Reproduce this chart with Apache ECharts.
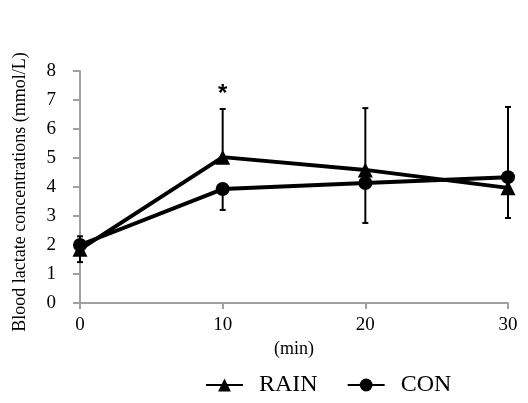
<!DOCTYPE html>
<html>
<head>
<meta charset="utf-8">
<script src="https://cdn.jsdelivr.net/npm/echarts@6/dist/echarts.min.js"></script>
<style>
html,body{margin:0;padding:0;background:#fff;}
#main{width:528px;height:403px;}
</style>
</head>
<body>
<div id="main"></div>
<script>
var times = [0, 10, 20, 30];
var rain = [1.85, 5.03, 4.59, 3.97];
var con = [2.0, 3.93, 4.14, 4.34];
// error bars (only one side drawn per point, as in the figure)
var rainUp = [0, 1.66, 2.13, 0];
var rainDown = [0.44, 0, 0, 1.04];
var conUp = [0.3, 0, 0, 2.42];
var conDown = [0, 0.72, 1.38, 0];
var yTicks = [0, 8, 1];

var myChart = echarts.init(document.getElementById('main'));
var font = 'Liberation Serif';

function pairs(vals){
	var out = [];
	for(var i = 0;i < times.length;i++){
		out.push([times[i], vals[i]]);
	}
	return out;
}
function errData(vals, up, down){
	var out = [];
	for(var i = 0;i < times.length;i++){
		out.push([times[i], vals[i] - down[i], vals[i] + up[i]]);
	}
	return out;
}
function renderErr(params, api){
	var lo = api.coord([api.value(0), api.value(1)]);
	var hi = api.coord([api.value(0), api.value(2)]);
	var w = 3;
	var st = {stroke:'#000', lineWidth:2};
	return {
		type:'group',
		children:[
			{type:'line', shape:{x1:lo[0], y1:lo[1], x2:hi[0], y2:hi[1]}, style:st},
			{type:'line', shape:{x1:lo[0]-w, y1:lo[1], x2:lo[0]+w, y2:lo[1]}, style:st},
			{type:'line', shape:{x1:hi[0]-w, y1:hi[1], x2:hi[0]+w, y2:hi[1]}, style:st}
		]
	};
}

var option = {
	animation:false,
	grid:{
		left:80,
		right:20,
		top:71,
		bottom:100
	},
	legend:{
		bottom:6,
		left:205,
		padding:0,
		itemWidth:37,
		itemHeight:16,
		itemGap:29,
		textStyle:{fontFamily:font, fontSize:24, color:'#000', padding:[0,0,0,11]},
		data:['RAIN', 'CON']
	},
	xAxis:{
		type:'value',
		min:0,
		max:30,
		interval:10,
		name:'(min)',
		nameLocation:'middle',
		nameGap:36,
		nameTextStyle:{fontFamily:font, fontSize:18, color:'#000'},
		axisLine:{lineStyle:{color:'#a0a0a0', width:2}},
		axisTick:{show:true, length:6, lineStyle:{color:'#a0a0a0', width:2}},
		axisLabel:{fontFamily:font, fontSize:19, color:'#000', margin:13},
		splitLine:{show:false}
	},
	yAxis:{
		type:'value',
		min:yTicks[0],
		max:yTicks[1],
		interval:yTicks[2],
		name:'Blood lactate concentrations (mmol/L)',
		nameLocation:'middle',
		nameRotate:90,
		nameGap:51,
		nameTextStyle:{fontFamily:font, fontSize:18, color:'#000', padding:[0,10,0,0]},
		axisLine:{show:true, lineStyle:{color:'#a0a0a0', width:2}},
		axisTick:{show:true, length:7, lineStyle:{color:'#a0a0a0', width:2}},
		axisLabel:{fontFamily:font, fontSize:19, color:'#000', margin:24},
		splitLine:{show:false}
	},
	series:[
		{
			name:'RAIN',
			type:'line',
			data:pairs(rain),
			symbol:'triangle',
			symbolSize:15,
			lineStyle:{color:'#000', width:4},
			itemStyle:{color:'#000'},
			markPoint:{
				symbol:'circle',
				symbolSize:0,
				label:{show:true, formatter:'*', fontFamily:'Liberation Sans', fontWeight:'bold', fontSize:24, color:'#000', offset:[0, 5]},
				data:[{coord:[10, 7.38]}]
			},
			z:3
		},
		{
			name:'CON',
			type:'line',
			data:pairs(con),
			symbol:'circle',
			symbolSize:14,
			lineStyle:{color:'#000', width:4},
			itemStyle:{color:'#000'},
			z:3
		},
		{
			name:'rainErr',
			type:'custom',
			renderItem:renderErr,
			data:errData(rain, rainUp, rainDown),
			encode:{x:0, y:[1, 2]},
			z:2
		},
		{
			name:'conErr',
			type:'custom',
			renderItem:renderErr,
			data:errData(con, conUp, conDown),
			encode:{x:0, y:[1, 2]},
			z:2
		}
	]
};

myChart.setOption(option);
</script>
</body>
</html>
